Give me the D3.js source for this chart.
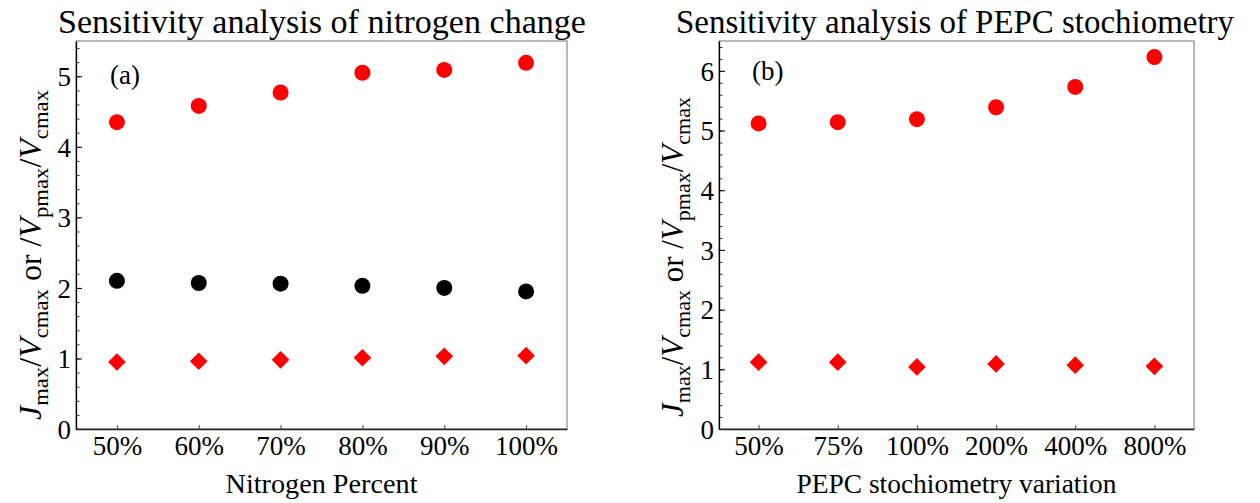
<!DOCTYPE html>
<html>
<head>
<meta charset="utf-8">
<script src="https://cdn.jsdelivr.net/npm/d3@7"></script>
<style>
  body { margin: 0; background: #fff; }
  svg text { font-family: "Liberation Serif", "DejaVu Serif", serif; fill: #000; }
</style>
</head>
<body>
<div id="chart"></div>
<script>

// ----------------------------------------------------------------
// Data
// ----------------------------------------------------------------

const nitrogenLabels = ["50%", "60%", "70%", "80%", "90%", "100%"];
const nitrogenCircleRed = [4.35, 4.58, 4.77, 5.05, 5.09, 5.19];
const nitrogenCircleBlack = [2.10, 2.07, 2.06, 2.03, 2.00, 1.95];
const nitrogenDiamond = [0.95, 0.96, 0.98, 1.01, 1.03, 1.04];

const pepcLabels = ["50%", "75%", "100%", "200%", "400%", "800%"];
const pepcCircleRed = [5.12, 5.14, 5.19, 5.39, 5.73, 6.23];
const pepcDiamond = [1.12, 1.12, 1.04, 1.09, 1.07, 1.05];

const yTicksA = [0, 1, 2, 3, 4, 5];
const yTicksB = [0, 1, 2, 3, 4, 5, 6];

// ----------------------------------------------------------------
// Setup
// ----------------------------------------------------------------

const width = 1260;
const height = 503;

const svg = d3.select("#chart").append("svg")
  .attr("width", width)
  .attr("height", height);

// ----------------------------------------------------------------
// Functions
// ----------------------------------------------------------------

/**
 * Draws one panel
 *
 * @param opt (obj) box, titles, labels, y max and series
 */
function drawPanel (opt) {
  const g = svg.append("g");
  const n = opt.labels.length;
  const x = d3.scaleLinear().domain([0.5, n + 0.5]).range([opt.left, opt.right]);
  const y = d3.scaleLinear().domain([0, opt.yMax]).range([opt.bottom, opt.top]);

  // frame (top and right are gray)
  g.append("rect")
    .attr("x", opt.left).attr("y", opt.top)
    .attr("width", opt.right - opt.left).attr("height", opt.bottom - opt.top)
    .attr("fill", "none").attr("stroke", "#8a8a8a").attr("stroke-width", 1.2);

  // minor y ticks
  const minor = d3.range(0, opt.yMax + 0.001, 0.2).map(v => +v.toFixed(1));
  g.append("g")
    .attr("transform", "translate(" + opt.left + ",0)")
    .call(d3.axisLeft(y).tickValues(minor).tickSize(-3.5).tickFormat(""))
    .call(a => a.select(".domain").remove())
    .selectAll("line").attr("stroke", "#333");

  // major y ticks
  const yAxis = g.append("g")
    .attr("transform", "translate(" + opt.left + ",0)")
    .call(d3.axisLeft(y).tickValues(opt.yTicks).tickSize(-6).tickSizeOuter(0)
      .tickPadding(5).tickFormat(d3.format("d")));
  yAxis.select(".domain").attr("stroke", "#000").attr("stroke-width", 1.3);
  yAxis.selectAll("text").attr("font-size", 27).attr("dy", "0.34em");

  // x axis
  const xAxis = g.append("g")
    .attr("transform", "translate(0," + opt.bottom + ")")
    .call(d3.axisBottom(x).tickValues(d3.range(1, n + 1)).tickSize(-4).tickSizeOuter(0)
      .tickPadding(7).tickFormat(i => opt.labels[i - 1]));
  xAxis.select(".domain").attr("stroke", "#222").attr("stroke-width", 1.3);
  xAxis.selectAll("line").attr("stroke", "#444");
  xAxis.selectAll("text").attr("font-size", 27);

  // title
  g.append("text")
    .attr("x", opt.titleX).attr("y", 33)
    .attr("text-anchor", "middle")
    .attr("font-size", 34)
    .attr("textLength", opt.titleW).attr("lengthAdjust", "spacingAndGlyphs")
    .text(opt.title);

  // x label
  g.append("text")
    .attr("x", (opt.left + opt.right) / 2).attr("y", 493)
    .attr("text-anchor", "middle")
    .attr("font-size", 28)
    .attr("textLength", opt.xLabelW).attr("lengthAdjust", "spacingAndGlyphs")
    .text(opt.xLabel);

  // panel tag
  g.append("text")
    .attr("x", opt.tagX).attr("y", opt.tagY)
    .attr("font-size", 27)
    .text(opt.tag);

  // y label with subscripts
  const yl = g.append("text")
    .attr("transform", "translate(" + opt.yLabelX + "," + opt.yLabelY + ") rotate(-90)")
    .attr("text-anchor", "middle")
    .attr("font-size", 31)
    .attr("textLength", opt.yLabelW).attr("lengthAdjust", "spacingAndGlyphs");
  const parts = [
    ["J", "it"], ["max", "sub"], ["/", ""], ["V", "it"], ["cmax", "sub"],
    [" or /", ""], ["V", "it"], ["pmax", "sub"], ["/", ""], ["V", "it"], ["cmax", "sub"]
  ];
  let down = false;
  parts.forEach(function (p) {
    const t = yl.append("tspan").text(p[0]);
    if (p[1] === "it") t.attr("font-style", "italic");
    if (p[1] === "sub") {
      t.attr("font-size", 22).attr("dy", 7);
      down = true;
    } else if (down) {
      t.attr("dy", -7);
      down = false;
    }
  });

  // series
  opt.series.forEach(function (s) {
    if (s.shape === "circle") {
      g.selectAll(null).data(s.values).enter().append("circle")
        .attr("cx", (d, i) => x(i + 1))
        .attr("cy", d => y(d))
        .attr("r", 8)
        .attr("fill", s.color);
    } else {
      g.selectAll(null).data(s.values).enter().append("path")
        .attr("d", d3.symbol(d3.symbolSquare, 156))
        .attr("transform", (d, i) => "translate(" + x(i + 1) + "," + y(d) + ") rotate(45)")
        .attr("fill", s.color);
    }
  });
}

// ----------------------------------------------------------------
// On execution
// ----------------------------------------------------------------

drawPanel({
  left: 76, right: 567, top: 41, bottom: 429, yMax: 5.5, yTicks: yTicksA,
  labels: nitrogenLabels,
  title: "Sensitivity analysis of nitrogen change", titleX: 322, titleW: 528,
  xLabel: "Nitrogen Percent", xLabelW: 192,
  tag: "(a)", tagX: 110, tagY: 84,
  yLabelX: 41, yLabelY: 255, yLabelW: 330,
  series: [
    { values: nitrogenCircleRed, shape: "circle", color: "#ff0000" },
    { values: nitrogenCircleBlack, shape: "circle", color: "#000000" },
    { values: nitrogenDiamond, shape: "diamond", color: "#ff0000" }
  ]
});

drawPanel({
  left: 719, right: 1194, top: 41, bottom: 429, yMax: 6.5, yTicks: yTicksB,
  labels: pepcLabels,
  title: "Sensitivity analysis of PEPC stochiometry", titleX: 955, titleW: 558,
  xLabel: "PEPC stochiometry variation", xLabelW: 320,
  tag: "(b)", tagX: 752, tagY: 80,
  yLabelX: 683, yLabelY: 257, yLabelW: 320,
  series: [
    { values: pepcCircleRed, shape: "circle", color: "#ff0000" },
    { values: pepcDiamond, shape: "diamond", color: "#ff0000" }
  ]
});

</script>
</body>
</html>
